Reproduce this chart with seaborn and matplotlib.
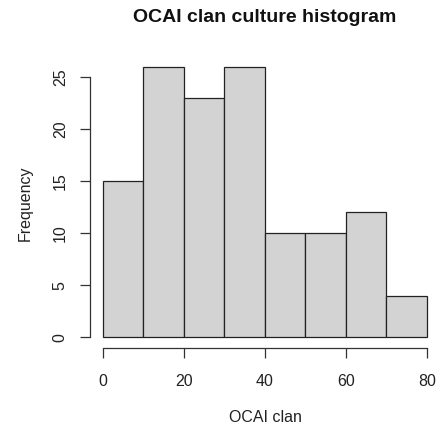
import matplotlib
matplotlib.use("Agg")
import matplotlib.pyplot as plt
import seaborn as sns
import numpy as np
import pandas as pd

bin_edges = [0, 10, 20, 30, 40, 50, 60, 70, 80]
counts = [15, 26, 23, 26, 10, 10, 12, 4]
x_ticks = [0, 20, 40, 60, 80]
y_ticks = [0, 5, 10, 15, 20, 25]

sns.set_theme(style="white")
plt.rcParams['font.family'] = ['Liberation Sans', 'DejaVu Sans']

mids = [(bin_edges[i] + bin_edges[i + 1]) / 2 for i in range(len(counts))]
df = pd.DataFrame({"OCAI clan": mids, "count": counts})

W, H = 438, 429
fig = plt.figure(figsize=(W / 100, H / 100), dpi=100)
left, right, top, bottom = 90, 439.7, 56, 348
ax = fig.add_axes([left / W, (H - bottom) / H, (right - left) / W, (bottom - top) / H])

sns.histplot(data=df, x="OCAI clan", weights="count", bins=bin_edges,
             color="#D3D3D3", edgecolor="#222222", linewidth=0.9, alpha=1, ax=ax)

ax.set_xlim(-3.2, 83.2)
ax.set_ylim(-1.04, 27.04)
ax.set_xticks(x_ticks)
ax.set_yticks(y_ticks)
ax.set_yticklabels([str(v) for v in y_ticks], rotation=90, va="center")

for s in ["top", "right"]:
    ax.spines[s].set_visible(False)
for s in ["left", "bottom"]:
    ax.spines[s].set_color("#333333")
    ax.spines[s].set_linewidth(0.9)
ax.spines["left"].set_bounds(0, 25)
ax.spines["bottom"].set_bounds(0, 80)

ax.tick_params(axis="both", which="both", direction="out", length=7, width=0.9,
               color="#333333", labelsize=11.5, labelcolor="#222222",
               left=True, bottom=True)
ax.tick_params(axis="x", pad=12)
ax.tick_params(axis="y", pad=9)
ax.grid(False)

ax.set_xlabel("OCAI clan", fontsize=11.5, color="#222222")
ax.set_ylabel("Frequency", fontsize=11.5, color="#222222")
ax.xaxis.set_label_coords((265 - left) / (right - left), -(418 - bottom) / (bottom - top))
ax.yaxis.set_label_coords(-(left - 25) / (right - left), (bottom - 203) / (bottom - top))
ax.xaxis.label.set_va("center")
ax.yaxis.label.set_va("center")

t = ax.set_title("OCAI clan culture histogram", fontsize=14, fontweight="bold",
                 color="#111111", y=1 + (top - 18) / (bottom - top), pad=0)
t.set_va("center")

fig.savefig("out.png", dpi=100)
